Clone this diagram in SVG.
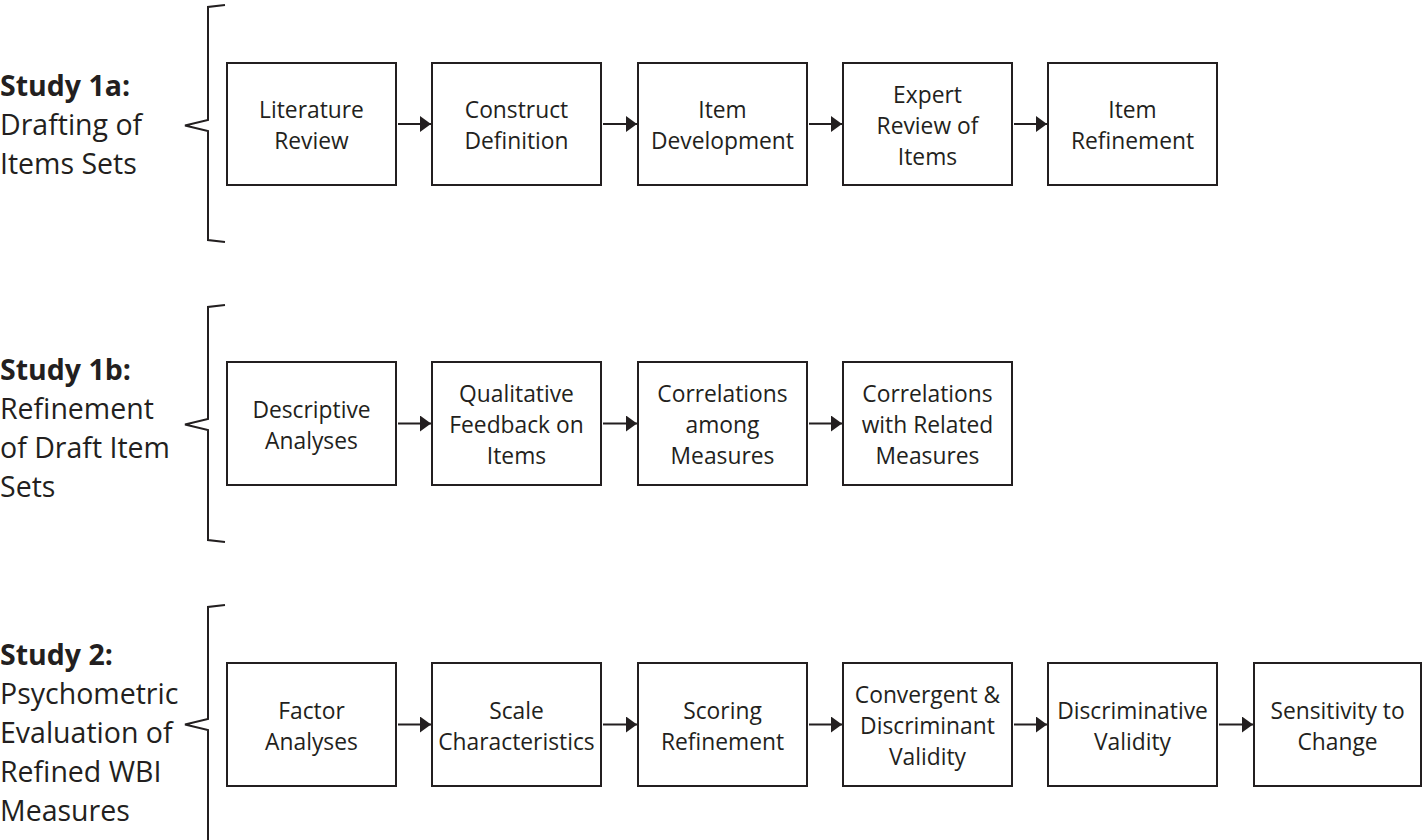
<svg xmlns="http://www.w3.org/2000/svg" width="1422" height="840" viewBox="0 0 1422 840">
<style>
.box{fill:#fff;stroke:#231f20;stroke-width:2}
.t{font-family:"Open Sans","Liberation Sans",sans-serif;font-size:22.8px;fill:#231f20;text-anchor:middle}
.lab{font-family:"Open Sans","Liberation Sans",sans-serif;font-size:28.5px;fill:#231f20}
.b{font-weight:bold}
.br{fill:none;stroke:#231f20;stroke-width:2}
.ar{fill:none;stroke:#231f20;stroke-width:2;marker-end:url(#ah)}
</style>
<defs>
<marker id="ah" markerUnits="userSpaceOnUse" markerWidth="11" markerHeight="16" refX="11" refY="8" orient="auto">
<path d="M0,0 L11,8 L0,16 z" fill="#231f20"/>
</marker>
</defs>
<rect width="1422" height="840" fill="#fff"/>

<g id="study1a-label">
<text class="lab b" x="0" y="96">Study 1a:</text>
<text class="lab" x="0" y="135">Drafting of</text>
<text class="lab" x="0" y="174">Items Sets</text>
<path class="br" d="M225,5 L208,7 L208,120 L185,125.5 L208,131 L208,240 L225,242"/>
</g>
<g id="study1b-label">
<text class="lab b" x="0" y="380">Study 1b:</text>
<text class="lab" x="0" y="419">Refinement</text>
<text class="lab" x="0" y="458">of Draft Item</text>
<text class="lab" x="0" y="497">Sets</text>
<path class="br" d="M225,305 L208,307 L208,419 L185,424.5 L208,430 L208,540 L225,542"/>
</g>
<g id="study2-label">
<text class="lab b" x="0" y="665">Study 2:</text>
<text class="lab" x="0" y="704">Psychometric</text>
<text class="lab" x="0" y="743">Evaluation of</text>
<text class="lab" x="0" y="782">Refined WBI</text>
<text class="lab" x="0" y="821">Measures</text>
<path class="br" d="M225,605 L208,607 L208,719 L185,724.5 L208,730 L208,840"/>
</g>

<g id="n1"><rect class="box" x="227" y="63" width="169" height="122"/><text class="t" x="311.5" y="118">Literature</text><text class="t" x="311.5" y="149">Review</text></g>
<g id="n2"><rect class="box" x="432" y="63" width="169" height="122"/><text class="t" x="516.5" y="118">Construct</text><text class="t" x="516.5" y="149">Definition</text></g>
<g id="n3"><rect class="box" x="638" y="63" width="169" height="122"/><text class="t" x="722.5" y="118">Item</text><text class="t" x="722.5" y="149">Development</text></g>
<g id="n4"><rect class="box" x="843" y="63" width="169" height="122"/><text class="t" x="927.5" y="102.5">Expert</text><text class="t" x="927.5" y="133.5">Review of</text><text class="t" x="927.5" y="164.5">Items</text></g>
<g id="n5"><rect class="box" x="1048" y="63" width="169" height="122"/><text class="t" x="1132.5" y="118">Item</text><text class="t" x="1132.5" y="149">Refinement</text></g>

<g id="n6"><rect class="box" x="227" y="362" width="169" height="123"/><text class="t" x="311.5" y="417.5">Descriptive</text><text class="t" x="311.5" y="448.5">Analyses</text></g>
<g id="n7"><rect class="box" x="432" y="362" width="169" height="123"/><text class="t" x="516.5" y="402">Qualitative</text><text class="t" x="516.5" y="433">Feedback on</text><text class="t" x="516.5" y="464">Items</text></g>
<g id="n8"><rect class="box" x="638" y="362" width="169" height="123"/><text class="t" x="722.5" y="402">Correlations</text><text class="t" x="722.5" y="433">among</text><text class="t" x="722.5" y="464">Measures</text></g>
<g id="n9"><rect class="box" x="843" y="362" width="169" height="123"/><text class="t" x="927.5" y="402">Correlations</text><text class="t" x="927.5" y="433">with Related</text><text class="t" x="927.5" y="464">Measures</text></g>

<g id="n10"><rect class="box" x="227" y="663" width="169" height="123"/><text class="t" x="311.5" y="718.5">Factor</text><text class="t" x="311.5" y="749.5">Analyses</text></g>
<g id="n11"><rect class="box" x="432" y="663" width="169" height="123"/><text class="t" x="516.5" y="718.5">Scale</text><text class="t" x="516.5" y="749.5">Characteristics</text></g>
<g id="n12"><rect class="box" x="638" y="663" width="169" height="123"/><text class="t" x="722.5" y="718.5">Scoring</text><text class="t" x="722.5" y="749.5">Refinement</text></g>
<g id="n13"><rect class="box" x="843" y="663" width="169" height="123"/><text class="t" x="927.5" y="703">Convergent &amp;</text><text class="t" x="927.5" y="734">Discriminant</text><text class="t" x="927.5" y="765">Validity</text></g>
<g id="n14"><rect class="box" x="1048" y="663" width="169" height="123"/><text class="t" x="1132.5" y="718.5">Discriminative</text><text class="t" x="1132.5" y="749.5">Validity</text></g>
<g id="n15"><rect class="box" x="1254" y="663" width="167" height="123"/><text class="t" x="1337.5" y="718.5">Sensitivity to</text><text class="t" x="1337.5" y="749.5">Change</text></g>

<g id="connectors">
<path class="ar" d="M398,124 H431"/>
<path class="ar" d="M603,124 H637"/>
<path class="ar" d="M809,124 H842"/>
<path class="ar" d="M1014,124 H1047"/>
<path class="ar" d="M398,423.5 H431"/>
<path class="ar" d="M603,423.5 H637"/>
<path class="ar" d="M809,423.5 H842"/>
<path class="ar" d="M398,724.5 H431"/>
<path class="ar" d="M603,724.5 H637"/>
<path class="ar" d="M809,724.5 H842"/>
<path class="ar" d="M1014,724.5 H1047"/>
<path class="ar" d="M1219,724.5 H1253"/>
</g>
</svg>
